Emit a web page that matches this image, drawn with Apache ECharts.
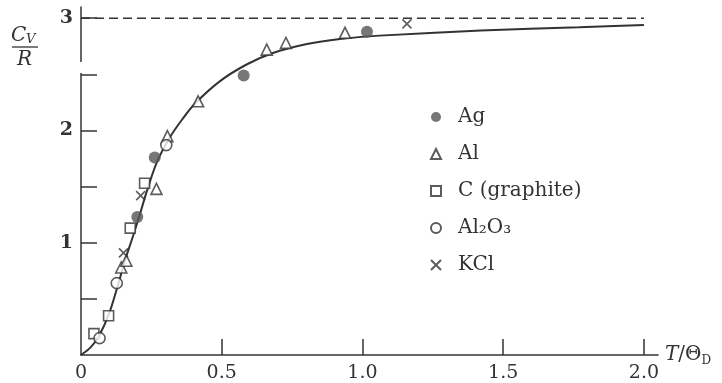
<!DOCTYPE html>
<html><head><meta charset="utf-8">
<script src="https://cdn.jsdelivr.net/npm/echarts@6/dist/echarts.min.js"></script>
<style>html,body{margin:0;padding:0;background:#fff}#c{width:722px;height:383px}</style>
</head><body><div id="c"></div>
<script>
// ---- data ----
const xLabelValues = [0, 0.5, 1.0, 1.5, 2.0];
const xTickValues = [0.5, 1.0, 1.5, 2.0];
const yLabelValues = [1, 2, 3];
const yTickValues = [0.5, 1, 1.5, 2, 2.5, 3];

// Debye curve, points
const debyeCurve = [
  [0, 0], [0.035, 0.07], [0.064, 0.17], [0.1, 0.37], [0.131, 0.62], [0.156, 0.84],
  [0.185, 1.06], [0.21, 1.26], [0.234, 1.46], [0.27, 1.72], [0.316, 1.94], [0.36, 2.1],
  [0.405, 2.24], [0.494, 2.44], [0.59, 2.59], [0.682, 2.69], [0.803, 2.77], [0.92, 2.815],
  [1.06, 2.845], [1.42, 2.89], [1.77, 2.92], [2.0, 2.94]
];
// classical (Dulong–Petit) limit, dashed
const classicalLimit = [[0, 3], [2.0, 3]];

const agData = [[0.2, 1.23], [0.262, 1.76], [0.578, 2.49], [1.016, 2.88]];
const alData = [[0.143, 0.78], [0.161, 0.84], [0.268, 1.48], [0.307, 1.95], [0.416, 2.26], [0.66, 2.72], [0.728, 2.78], [0.938, 2.87]];
const cData = [[0.046, 0.19], [0.098, 0.35], [0.175, 1.13], [0.226, 1.53]];
const al2o3Data = [[0.066, 0.15], [0.127, 0.64], [0.303, 1.87]];
const kclData = [[0.151, 0.91], [0.212, 1.42], [1.158, 2.95]];

const seriesNames = ['Ag', 'Al', 'C (graphite)', 'Al₂O₃', 'KCl'];

// ---- styling ----
const INK = '#333';
const FONT = 'DejaVu Serif';
const xMark = 'path://M0,0L10,10M10,0L0,10';
const hollow = { color: '#fff', borderColor: INK, borderWidth: 1.6 };

const chart = echarts.init(document.getElementById('c'), null, { renderer: 'canvas' });
chart.setOption({
  animation: false,
  backgroundColor: '#fff',
  grid: { left: 81, right: 64, top: 7, bottom: 27, containLabel: false },
  xAxis: {
    type: 'value', min: 0, max: 2.05,
    axisLine: { lineStyle: { color: INK, width: 1.5 } },
    axisTick: { show: true, inside: true, length: 16, customValues: xTickValues, lineStyle: { color: INK, width: 1.5 } },
    axisLabel: {
      customValues: xLabelValues, margin: 9, color: INK, fontFamily: FONT, fontSize: 19,
      formatter: v => (v === 0 ? '0' : v.toFixed(1))
    },
    splitLine: { show: false },
    name: '{t|T}{o|/Θ}{d|D}', nameLocation: 'end', nameGap: 4,
    nameTextStyle: {
      color: INK, fontFamily: FONT, verticalAlign: 'middle', align: 'left',
      rich: {
        t: { fontStyle: 'italic', fontSize: 20, fontFamily: FONT, color: INK },
        o: { fontSize: 20, fontFamily: FONT, color: INK },
        d: { fontSize: 12, fontFamily: FONT, color: INK, padding: [12, 0, 0, 0] }
      }
    }
  },
  yAxis: {
    type: 'value', min: 0, max: 3.1,
    axisLine: { lineStyle: { color: INK, width: 1.5 } },
    axisTick: { show: true, inside: true, length: 16, customValues: yTickValues, lineStyle: { color: INK, width: 1.5 } },
    axisLabel: { customValues: yLabelValues, margin: 8, color: INK, fontFamily: FONT, fontSize: 19, fontWeight: 'bold' },
    splitLine: { show: false }
  },
  legend: {
    orient: 'vertical', left: 425, top: 102,
    itemWidth: 10, itemHeight: 10, itemGap: 17,
    data: seriesNames,
    textStyle: { color: INK, fontFamily: FONT, fontSize: 20, lineHeight: 20, padding: [0, 0, 0, 12] }
  },
  graphic: [
    { type: 'rect', z: 100, shape: { x: 77, y: 62, width: 7, height: 11 }, style: { fill: '#fff' } },
    { type: 'text', z: 100, style: { x: 11, y: 26, text: 'C', font: 'italic 20px "DejaVu Serif"', fill: INK } },
    { type: 'text', z: 100, style: { x: 26, y: 33, text: 'V', font: 'italic 13px "DejaVu Serif"', fill: INK } },
    { type: 'line', z: 100, shape: { x1: 12, y1: 47, x2: 38, y2: 47 }, style: { stroke: INK, lineWidth: 1.3 } },
    { type: 'text', z: 100, style: { x: 17, y: 50, text: 'R', font: 'italic 20px "DejaVu Serif"', fill: INK } }
  ],
  series: [
    { name: 'Debye', type: 'line', data: debyeCurve, smooth: 0.3, symbol: 'none',
      lineStyle: { color: INK, width: 2 }, z: 2 },
    { name: 'limit', type: 'line', data: classicalLimit, symbol: 'none',
      lineStyle: { color: INK, width: 1.5, type: [9, 5] }, z: 2 },
    { name: 'Ag', type: 'scatter', data: agData, symbol: 'circle', symbolSize: 12,
      itemStyle: { color: '#555', borderWidth: 0 }, z: 5 },
    { name: 'Al', type: 'scatter', data: alData, symbol: 'triangle', symbolSize: 11,
      itemStyle: hollow, z: 5 },
    { name: 'C (graphite)', type: 'scatter', data: cData, symbol: 'rect', symbolSize: 10,
      itemStyle: hollow, z: 5 },
    { name: 'Al₂O₃', type: 'scatter', data: al2o3Data, symbol: 'circle', symbolSize: 11,
      itemStyle: hollow, z: 5 },
    { name: 'KCl', type: 'scatter', data: kclData, symbol: xMark, symbolSize: 9,
      itemStyle: { color: 'transparent', borderColor: INK, borderWidth: 1.6 }, z: 5 }
  ]
});
</script>
</body></html>
